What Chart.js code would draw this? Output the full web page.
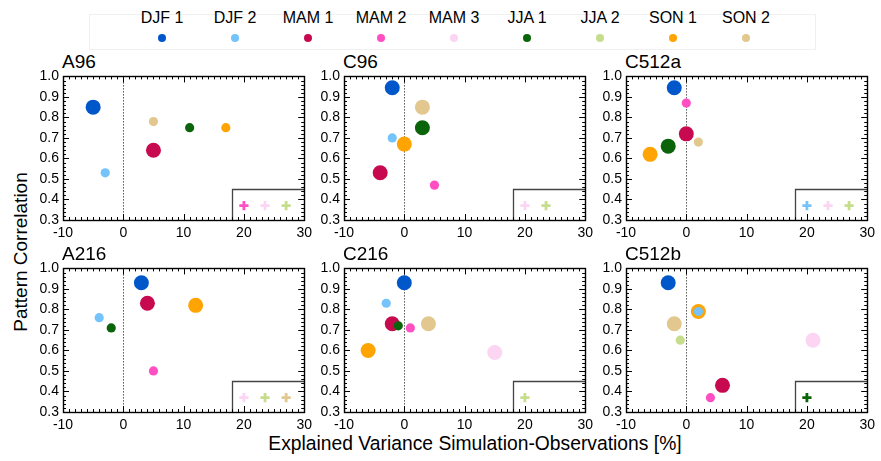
<!DOCTYPE html>
<html>
<head>
<meta charset="utf-8">
<script src="https://cdn.jsdelivr.net/npm/chart.js@4.4.1/dist/chart.umd.min.js"></script>
<style>
  html, body { margin: 0; padding: 0; background: #fff; }
  body { width: 881px; height: 461px; position: relative; overflow: hidden;
         font-family: "Liberation Sans", Arial, Helvetica, sans-serif; color: #000; }
  canvas { position: absolute; }
  .ptitle { position: absolute; font-size: 19px; line-height: 19px; white-space: nowrap; }
  #legendBox { position: absolute; left: 89px; top: 14px; width: 727px; height: 36px;
               border: 1px solid #f0f0f0; box-sizing: border-box; }
  .leg { position: absolute; width: 70px; text-align: center; }
  .leg span.t { display: block; font-size: 16px; line-height: 16px; white-space: nowrap; }
  .leg span.d { display: block; width: 8px; height: 8px; border-radius: 50%; margin: 8px auto 0 auto; }
  #xtitle { position: absolute; left: 0; width: 950px; text-align: center; top: 434px;
            font-size: 19.3px; line-height: 19px; white-space: nowrap; }
  #ytitle { position: absolute; left: 20px; top: 252px; font-size: 19px; line-height: 19px;
            white-space: nowrap; transform: translate(-50%, -50%) rotate(-90deg); }
</style>
</head>
<body>
<div id="legendBox"></div>
<div id="xtitle">Explained Variance Simulation-Observations [%]</div>
<div id="ytitle">Pattern Correlation</div>
<script>
// ---------------- DATA ----------------
const seriesNames = ['DJF 1', 'DJF 2', 'MAM 1', 'MAM 2', 'MAM 3', 'JJA 1', 'JJA 2', 'SON 1', 'SON 2'];
const panelNames = ['A96', 'C96', 'C512a', 'A216', 'C216', 'C512b'];

// Explained variance difference (x), null = outside plotted range (shown in inset)
const varA96   = [-5,   -3,   5,    null, null, 11,   null, 17,   5];
const varC96   = [-2,   -2,   -4,   5,    null, 3,    null, 0,    3];
const varC512a = [-2,   null, 0,    0,    null, -3,   null, -6,   2];
const varA216  = [3,    -4,   4,    5,    null, -2,   null, 12,   null];
const varC216  = [0,    -3,   -2,   1,    15,   -1,   null, -6,   4];
const varC512b = [-3,   2,    6,    4,    21,   null, -1,   2,    -2];

// Pattern correlation (y)
const corA96   = [0.85,  0.53, 0.64, null, null, 0.75, null, 0.75, 0.78];
const corC96   = [0.945, 0.70, 0.53, 0.47, null, 0.75, null, 0.67, 0.85];
const corC512a = [0.945, null, 0.72, 0.87, null, 0.66, null, 0.62, 0.68];
const corA216  = [0.93,  0.76, 0.83, 0.50, null, 0.71, null, 0.82, null];
const corC216  = [0.93,  0.83, 0.73, 0.71, 0.59, 0.72, null, 0.60, 0.73];
const corC512b = [0.93,  0.79, 0.43, 0.37, 0.65, null, 0.65, 0.79, 0.73];

// Large marker flag per series (1 = large symbol)
const bigA96   = [1, 0, 1, 0, 0, 0, 0, 0, 0];
const bigC96   = [1, 0, 1, 0, 0, 1, 0, 1, 1];
const bigC512a = [1, 0, 1, 0, 0, 1, 0, 1, 0];
const bigA216  = [1, 0, 1, 0, 0, 0, 0, 1, 0];
const bigC216  = [1, 0, 1, 0, 1, 0, 0, 1, 1];
const bigC512b = [1, 0, 1, 0, 1, 0, 0, 1, 1];

const xTicks = [-10, 0, 10, 20, 30];
const yTicks = [0.3, 0.4, 0.5, 0.6, 0.7, 0.8, 0.9, 1.0];

// ---------------- STYLE / LAYOUT ----------------
const seriesColors = ['#0057c9', '#74c3fb', '#c70a50', '#ff4fc3', '#fcd5f3',
                      '#0a640a', '#c6dd8c', '#ffa400', '#e2c88e'];
const panelVar = [varA96, varC96, varC512a, varA216, varC216, varC512b];
const panelCor = [corA96, corC96, corC512a, corA216, corC216, corC512b];
const panelBig = [bigA96, bigC96, bigC512a, bigA216, bigC216, bigC512b];
const plotLefts = [63, 344, 626];
const plotTops = [74, 266];
const plotW = 244, plotH = 146;
const padL = 45, padR = 10, padT = 10, axisH = 24;
const insetSlots = [20, 23.5, 27];  // inset marker slots (x units)
const insetMarkerY = 0.37;
const insetLeft = 18, insetTop = 0.45;
const FONT = '"Liberation Sans", Arial, Helvetica, sans-serif';

// Legend (HTML)
seriesNames.forEach((n, i) => {
  const d = document.createElement('div');
  d.className = 'leg';
  d.style.left = (162 + 73 * i - 35) + 'px';
  d.style.top = '10px';
  d.innerHTML = '<span class="t">' + n + '</span><span class="d" style="background:' + seriesColors[i] + '"></span>';
  document.body.appendChild(d);
});

const framePlugin = {
  id: 'frame',
  beforeDatasetsDraw(chart) {
    const { ctx, chartArea: a, scales: { x, y } } = chart;
    ctx.save();
    // inset box
    const ix = Math.round(x.getPixelForValue(insetLeft)) + 0.5;
    const iy = Math.round(y.getPixelForValue(insetTop)) + 0.5;
    ctx.strokeStyle = '#444';
    ctx.lineWidth = 1.3;
    ctx.beginPath();
    ctx.moveTo(ix, a.bottom);
    ctx.lineTo(ix, iy);
    ctx.lineTo(a.right, iy);
    ctx.stroke();
    // zero line
    const zx = Math.round(x.getPixelForValue(0)) + 0.5;
    ctx.strokeStyle = '#000';
    ctx.lineWidth = 1;
    ctx.setLineDash([1, 2]);
    ctx.beginPath();
    ctx.moveTo(zx, a.top);
    ctx.lineTo(zx, a.bottom);
    ctx.stroke();
    ctx.setLineDash([]);
    ctx.restore();
  },
  afterDatasetsDraw(chart) {
    const { ctx, chartArea: a, scales: { x, y } } = chart;
    ctx.save();
    ctx.strokeStyle = '#000';
    ctx.lineWidth = 1;
    ctx.beginPath();
    for (let v = -10; v <= 30; v += 1) {
      const px = Math.round(x.getPixelForValue(v)) + 0.5;
      const len = (v % 10 === 0) ? 6 : 3;
      ctx.moveTo(px, a.top); ctx.lineTo(px, a.top + len);
      ctx.moveTo(px, a.bottom); ctx.lineTo(px, a.bottom - len);
    }
    for (let k = 30; k <= 100; k += 2) {
      const py = Math.round(y.getPixelForValue(k / 100)) + 0.5;
      const len = (k % 10 === 0) ? 6 : 3;
      ctx.moveTo(a.left, py); ctx.lineTo(a.left + len, py);
      ctx.moveTo(a.right, py); ctx.lineTo(a.right - len, py);
    }
    ctx.stroke();
    ctx.lineWidth = 1.4;
    ctx.strokeRect(Math.round(a.left) + 0.5, Math.round(a.top) + 0.5,
                   Math.round(a.right - a.left), Math.round(a.bottom - a.top));
    ctx.restore();
  }
};

panelNames.forEach((pname, p) => {
  const col = p % 3, row = Math.floor(p / 3);
  const left = plotLefts[col], top = plotTops[row];

  const t = document.createElement('div');
  t.className = 'ptitle';
  t.textContent = pname;
  t.style.left = (left - 1) + 'px';
  t.style.top = (top - 22) + 'px';
  document.body.appendChild(t);

  const cv = document.createElement('canvas');
  const W = padL + plotW + padR, H = padT + plotH + axisH;
  cv.width = W; cv.height = H;
  cv.style.left = (left - padL) + 'px';
  cv.style.top = (top - padT) + 'px';
  cv.style.width = W + 'px'; cv.style.height = H + 'px';
  document.body.appendChild(cv);

  const xs = panelVar[p], ys = panelCor[p], bg = panelBig[p];
  const datasets = seriesNames.map((n, s) => ({
    label: n,
    data: xs[s] === null ? [] : [{ x: xs[s], y: ys[s] }],
    backgroundColor: seriesColors[s],
    borderColor: seriesColors[s],
    borderWidth: 0,
    pointRadius: bg[s] ? 7.5 : 4.6,
    pointHoverRadius: bg[s] ? 7.5 : 4.6,
    order: bg[s] ? 2 : 1,
    showLine: false
  }));
  let slot = 0;
  seriesNames.forEach((n, s) => {
    if (xs[s] === null) {
      datasets.push({
        label: n + ' (out of range)',
        data: [{ x: insetSlots[slot++], y: insetMarkerY }],
        pointStyle: 'cross',
        backgroundColor: seriesColors[s],
        borderColor: seriesColors[s],
        borderWidth: 2.8,
        pointRadius: 4.6,
        pointHoverRadius: 4.6,
        order: 0,
        showLine: false
      });
    }
  });

  new Chart(cv, {
    type: 'scatter',
    data: { datasets },
    options: {
      responsive: false,
      animation: false,
      devicePixelRatio: 1,
      layout: { padding: { left: 0, right: padR, top: padT, bottom: 0 } },
      plugins: { legend: { display: false }, tooltip: { enabled: false } },
      scales: {
        x: {
          type: 'linear', min: -10, max: 30,
          afterBuildTicks: s => { s.ticks = xTicks.map(v => ({ value: v })); },
          ticks: { font: { family: FONT, size: 14 }, color: '#000', padding: 5,
                   maxRotation: 0, autoSkip: false, callback: v => String(v) },
          grid: { display: false, drawTicks: false },
          border: { display: false },
          afterFit: s => { s.height = axisH; }
        },
        y: {
          type: 'linear', min: 0.3, max: 1.0,
          afterBuildTicks: s => { s.ticks = yTicks.map(v => ({ value: v })); },
          ticks: { font: { family: FONT, size: 14 }, color: '#000', padding: 4,
                   autoSkip: false, callback: v => Number(v).toFixed(1) },
          grid: { display: false, drawTicks: false },
          border: { display: false },
          afterFit: s => { s.width = padL; }
        }
      }
    },
    plugins: [framePlugin]
  });
});
</script>
</body>
</html>
